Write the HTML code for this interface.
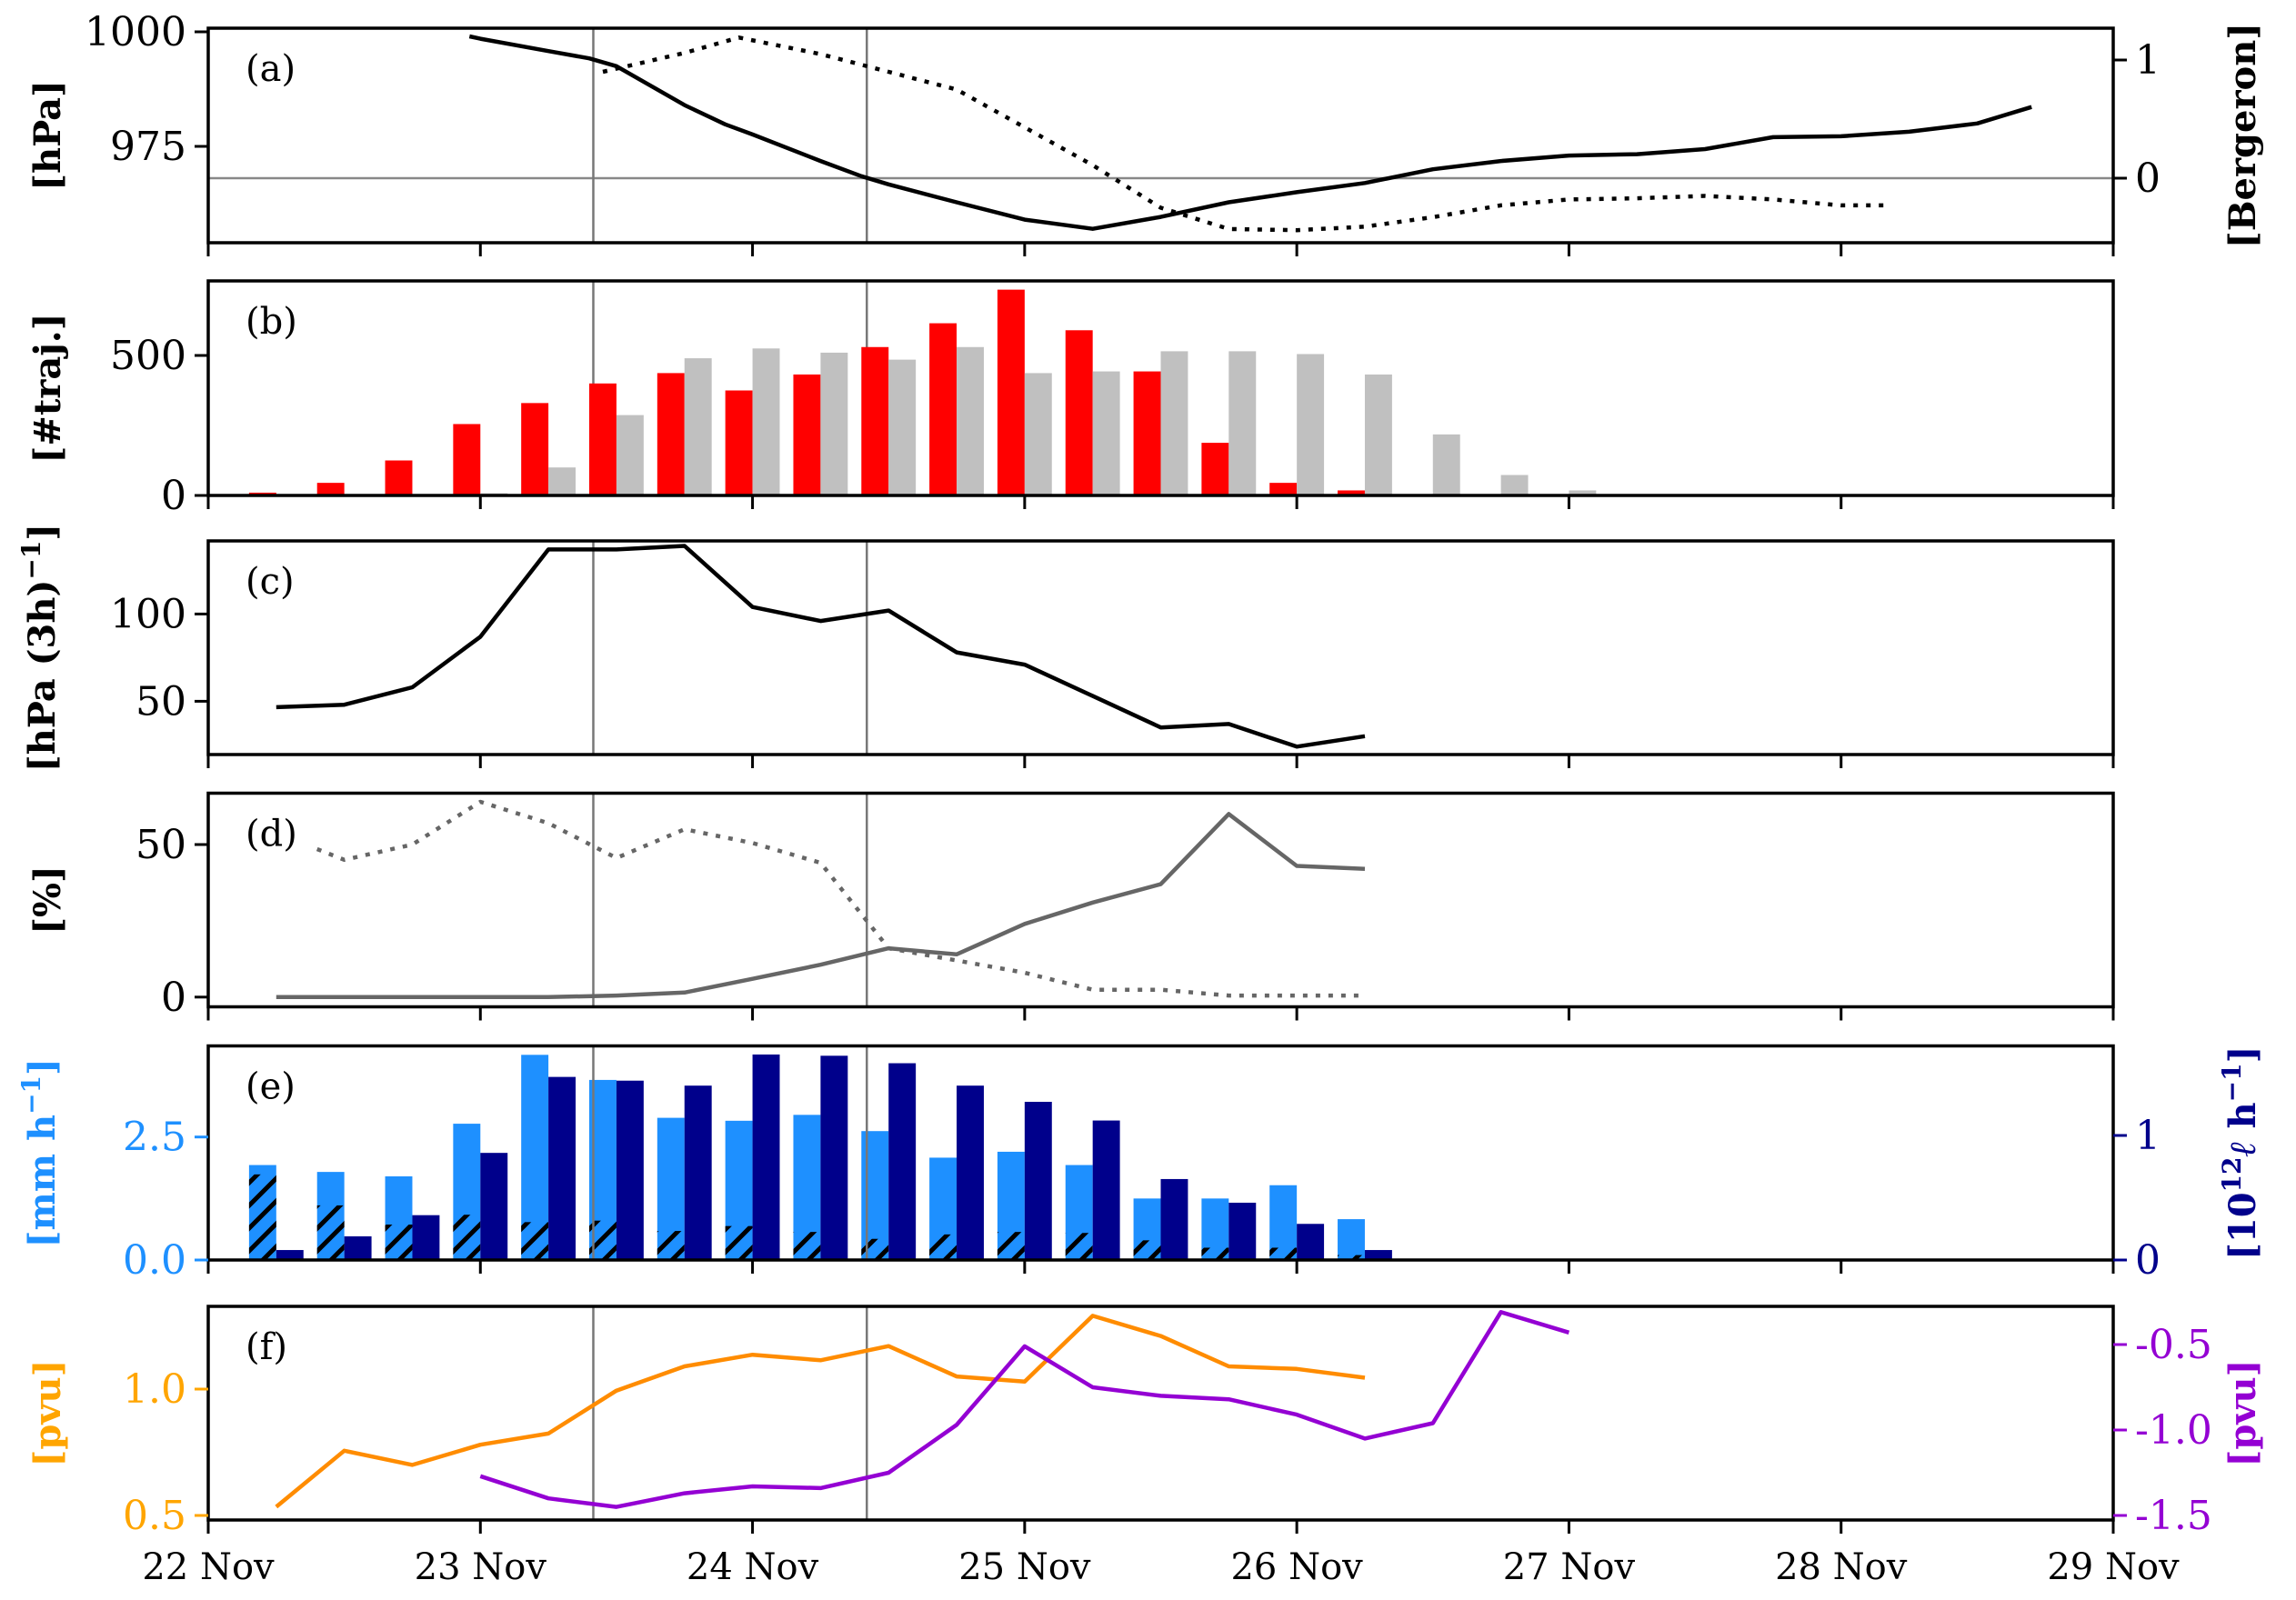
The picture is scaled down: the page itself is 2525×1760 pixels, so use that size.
<!DOCTYPE html>
<html><head><meta charset="utf-8"><style>
html,body{margin:0;padding:0;background:#fff;}
svg{display:block;}
text{font-family:"DejaVu Serif","Liberation Serif",serif;}
</style></head><body>
<svg id="fig" width="2525" height="1760" viewBox="0 0 2525 1760" xmlns="http://www.w3.org/2000/svg">
<defs>
<pattern id="hatch" patternUnits="userSpaceOnUse" width="25" height="25">
<path d="M-6,31 L31,-6 M-6,6 L6,-6 M19,31 L31,19" stroke="#000" stroke-width="5"/>
</pattern>
</defs>
</svg>
<script>
// ---- data ----
const presT=[0.96,1.0,1.25,1.4,1.5,1.75,1.9,2.0,2.25,2.4,2.5,2.75,3.0,3.25,3.5,3.75,4.0,4.25,4.5,4.75,5.0,5.25,5.5,5.75,6.0,6.25,6.5,6.7];
const presV=[999,998.5,995.8,994.2,992.5,984,979.8,977.6,971.8,968.5,966.7,962.8,959,957,959.6,962.8,965,967,970,971.8,973,973.3,974.4,977,977.2,978.2,980,983.6];
const bergT=[1.45,1.75,1.95,2.25,2.5,2.75,3.0,3.25,3.5,3.75,4.0,4.25,4.5,4.75,5.0,5.25,5.5,5.75,6.0,6.17];
const bergV=[0.9,1.06,1.19,1.05,0.9,0.75,0.43,0.11,-0.25,-0.43,-0.44,-0.41,-0.33,-0.23,-0.18,-0.17,-0.15,-0.18,-0.23,-0.23];
const barT=[0.25,0.5,0.75,1.0,1.25,1.5,1.75,2.0,2.25,2.5,2.75,3.0,3.25,3.5,3.75,4.0,4.25,4.5,4.75,5.0];
const trajRed=[10,45,125,255,330,400,437,375,432,530,615,735,590,443,188,45,18,0,0,0];
const trajGray=[0,0,0,8,100,287,490,525,510,485,530,437,443,515,515,505,432,218,73,18];
const deepT=[0.25,0.5,0.75,1.0,1.25,1.5,1.75,2.0,2.25,2.5,2.75,3.0,3.25,3.5,3.75,4.0,4.25];
const deepV=[46.6,48,58,87,137,137,139,104,96,102,78,71,53,35,37,24,30];
const pctSolid=[0,0,0,0,0,0.5,1.5,6,10.6,16,14,24,31,37,60,43,42];
const pctDotT=[0.4,0.5,0.75,1.0,1.25,1.5,1.75,2.0,2.25,2.5,2.75,3.0,3.25,3.5,3.75,4.0,4.25];
const pctDotV=[48.5,45,50,64,57,45.6,55,50.5,44,16,12,8,2.4,2.4,0.5,0.5,0.5];
const precipV=[1.93,1.79,1.7,2.77,4.17,3.66,2.89,2.83,2.95,2.62,2.08,2.2,1.93,1.25,1.25,1.52,0.83];
const hatchV=[1.74,1.11,0.72,0.92,0.77,0.8,0.59,0.69,0.57,0.43,0.52,0.57,0.55,0.4,0.25,0.25,0.1];
const volV=[0.08,0.19,0.36,0.86,1.47,1.44,1.4,1.65,1.64,1.58,1.4,1.27,1.12,0.65,0.46,0.29,0.08];
const pvT=[0.25,0.5,0.75,1.0,1.25,1.5,1.75,2.0,2.25,2.5,2.75,3.0,3.25,3.5,3.75,4.0,4.25];
const pvOrange=[0.534,0.756,0.7,0.78,0.824,0.994,1.09,1.136,1.114,1.17,1.05,1.03,1.29,1.21,1.09,1.08,1.045];
const pvPurpleT=[1.0,1.25,1.5,1.75,2.0,2.25,2.5,2.75,3.0,3.25,3.5,3.75,4.0,4.25,4.5,4.75,5.0];
const pvPurple=[-1.27,-1.40,-1.45,-1.37,-1.33,-1.34,-1.25,-0.97,-0.51,-0.75,-0.80,-0.82,-0.91,-1.05,-0.96,-0.31,-0.43];
const xTickLabels=["22 Nov","23 Nov","24 Nov","25 Nov","26 Nov","27 Nov","28 Nov","29 Nov"];
const vlineT=[1.415,2.42];

// ---- layout ----
const svg=document.getElementById('fig');
const NS='http://www.w3.org/2000/svg';
const X0=229,X1=2324;
function xs(d){return X0+(X1-X0)*d/7;}
function lin(v0,v1,p0,p1){return v=>p0+(v-v0)*(p1-p0)/(v1-v0);}
function mk(tag,attrs,parent){const e=document.createElementNS(NS,tag);for(const k in attrs)e.setAttribute(k,attrs[k]);(parent||svg).appendChild(e);return e;}
function txt(s,x,y,attrs,parent){const e=mk('text',Object.assign({x:x,y:y,'font-size':38},attrs||{}),parent);e.textContent=s;return e;}
function poly(ts,vs,xf,yf,attrs,parent){let d='';for(let i=0;i<ts.length;i++)d+=(i?'L':'M')+xf(ts[i]).toFixed(1)+','+yf(vs[i]).toFixed(1);return mk('path',Object.assign({d:d,fill:'none','stroke-linejoin':'round'},attrs),parent);}

function panel(name,top,bot){
  const g=mk('g',{});
  
  
  return g;
}
function frame(g,top,bot){
  const r=mk('rect',{x:X0,y:top,width:X1-X0,height:bot-top,fill:'none',stroke:'#000','stroke-width':3.5},g);
  
  
  for(let i=0;i<=7;i++){
    const t=mk('line',{x1:xs(i),x2:xs(i),y1:bot,y2:bot+15,stroke:'#000','stroke-width':3},g);
    
    
  }
}
function vlines(g,top,bot){
  vlineT.forEach(t=>{
    const l=mk('line',{x1:xs(t),x2:xs(t),y1:top,y2:bot,stroke:'#777','stroke-width':2.5},g);
    
    
  });
}
function yticks(g,vals,labels,yf,side,color){
  vals.forEach((v,i)=>{
    const y=yf(v);
    const x=side==='l'?X0:X1;
    const l=mk('line',{x1:x,x2:side==='l'?x-15:x+15,y1:y,y2:y,stroke:color,'stroke-width':3},g);
    
    
    const t=txt(labels[i],side==='l'?x-24:x+24,y+15,{'text-anchor':side==='l'?'end':'start',fill:color,'font-size':44},g);
    
    
  });
}
function ylabel(g,s,x,yc,color,sup){
  const t=mk('text',{x:0,y:0,'font-size':40,'font-weight':'bold',fill:color,'text-anchor':'middle',transform:`translate(${x},${yc}) rotate(-90)`},g);
  
  
  if(sup){
    sup.forEach(p=>{const a={};if(p.sup){a['font-size']=28;a.dy=-16;}if(p.down)a.dy=16;if(p.it)a['font-style']='italic';const ts=mk('tspan',a,t);ts.textContent=p.s;});
  } else t.textContent=s;
  return t;
}
function plabel(g,s,top){
  const t=txt(s,270,top+58,{'font-size':40},g);
  
  
}

// ---- panel a ----
(function(){
  const top=31,bot=267;
  const g=panel('panel-a-pressure',top,bot);
  const y=lin(1000,975,35,161);
  const yb=lin(1,0,66,196);
  const h=mk('line',{x1:X0,x2:X1,y1:yb(0),y2:yb(0),stroke:'#888','stroke-width':2.5},g);
  
  
  vlines(g,top,bot);
  const p=poly(presT,presV,xs,y,{stroke:'#000','stroke-width':4.5},g);
  
  
  const b=poly(bergT,bergV,xs,yb,{stroke:'#000','stroke-width':4.5,'stroke-dasharray':'5 9'},g);
  
  
  frame(g,top,bot);
  yticks(g,[1000,975],['1000','975'],y,'l','#000');
  yticks(g,[1,0],['1','0'],yb,'r','#000');
  ylabel(g,'[hPa]',66,(top+bot)/2,'#000');
  ylabel(g,'[Bergeron]',2480,(top+bot)/2,'#000');
  plabel(g,'(a)',top);
})();

// ---- panel b ----
(function(){
  const top=309,bot=545;
  const g=panel('panel-b-trajectories',top,bot);
  const y=lin(0,500,545,391);
  vlines(g,top,bot);
  barT.forEach((t,i)=>{
    if(trajRed[i]>0){const r=mk('rect',{x:xs(t-0.1),y:y(trajRed[i]),width:xs(t)-xs(t-0.1),height:y(0)-y(trajRed[i]),fill:'#ff0000'},g);
      
      }
    if(trajGray[i]>0){const r=mk('rect',{x:xs(t),y:y(trajGray[i]),width:xs(t+0.1)-xs(t),height:y(0)-y(trajGray[i]),fill:'#c0c0c0'},g);
      
      }
  });
  frame(g,top,bot);
  yticks(g,[0,500],['0','500'],y,'l','#000');
  ylabel(g,'[#traj.]',66,(top+bot)/2,'#000');
  plabel(g,'(b)',top);
})();

// ---- panel c ----
(function(){
  const top=595,bot=830;
  const g=panel('panel-c-deepening',top,bot);
  const y=lin(100,50,675.4,771.4);
  vlines(g,top,bot);
  const p=poly(deepT,deepV,xs,y,{stroke:'#000','stroke-width':4.5},g);
  
  
  frame(g,top,bot);
  yticks(g,[100,50],['100','50'],y,'l','#000');
  ylabel(g,'',60,(top+bot)/2,'#000',[{s:'[hPa (3h)'},{s:'−1',sup:true},{s:']',down:true}]);
  plabel(g,'(c)',top);
})();

// ---- panel d ----
(function(){
  const top=872.5,bot=1107.5;
  const g=panel('panel-d-percent',top,bot);
  const y=lin(50,0,929,1096.8);
  vlines(g,top,bot);
  const p=poly(deepT,pctSolid,xs,y,{stroke:'#666','stroke-width':4.5},g);
  
  
  const q=poly(pctDotT,pctDotV,xs,y,{stroke:'#666','stroke-width':4.5,'stroke-dasharray':'5 9'},g);
  
  
  frame(g,top,bot);
  yticks(g,[50,0],['50','0'],y,'l','#000');
  ylabel(g,'[%]',66,(top+bot)/2,'#000');
  plabel(g,'(d)',top);
})();

// ---- panel e ----
(function(){
  const top=1150.5,bot=1386;
  const g=panel('panel-e-precip',top,bot);
  const y=lin(0,2.5,1386,1250.7);
  const yr=lin(0,1,1386,1249);
  deepT.forEach((t,i)=>{
    const a=mk('rect',{x:xs(t-0.1),y:y(precipV[i]),width:xs(t)-xs(t-0.1),height:y(0)-y(precipV[i]),fill:'#1e90ff'},g);
    
    
    const h=mk('rect',{x:xs(t-0.1),y:y(hatchV[i]),width:xs(t)-xs(t-0.1),height:y(0)-y(hatchV[i]),fill:'url(#hatch)'},g);
    
    
    const b=mk('rect',{x:xs(t),y:yr(volV[i]),width:xs(t+0.1)-xs(t),height:yr(0)-yr(volV[i]),fill:'#00008b'},g);
    
    
  });
  vlines(g,top,bot);
  frame(g,top,bot);
  yticks(g,[0,2.5],['0.0','2.5'],y,'l','#1e90ff');
  yticks(g,[0,1],['0','1'],yr,'r','#00008b');
  ylabel(g,'',60,(top+bot)/2,'#1e90ff',[{s:'[mm h'},{s:'−1',sup:true},{s:']',down:true}]);
  ylabel(g,'',2480,(top+bot)/2,'#00008b',[{s:'[10'},{s:'12',sup:true},{s:'ℓ',down:true,it:true},{s:' h'},{s:'−1',sup:true},{s:']',down:true}]);
  plabel(g,'(e)',top);
})();

// ---- panel f ----
(function(){
  const top=1437,bot=1672;
  const g=panel('panel-f-pv',top,bot);
  const y=lin(1.0,0.5,1528,1667);
  const yr=lin(-0.5,-1.5,1479,1667);
  vlines(g,top,bot);
  const o=poly(pvT,pvOrange,xs,y,{stroke:'#ff8c00','stroke-width':4.5},g);
  
  
  const p=poly(pvPurpleT,pvPurple,xs,yr,{stroke:'#9400d3','stroke-width':4.5},g);
  
  
  frame(g,top,bot);
  yticks(g,[0.5,1.0],['0.5','1.0'],y,'l','#ffa500');
  yticks(g,[-0.5,-1.0,-1.5],['-0.5','-1.0','-1.5'],yr,'r','#9400d3');
  ylabel(g,'[pvu]',66,(top+bot)/2,'#ffa500');
  ylabel(g,'[pvu]',2480,(top+bot)/2,'#9400d3');
  plabel(g,'(f)',top);
  xTickLabels.forEach((s,i)=>{
    const t=txt(s,xs(i),1737,{'text-anchor':'middle','font-size':40},g);
    
    
  });
})();
</script>
</body></html>
